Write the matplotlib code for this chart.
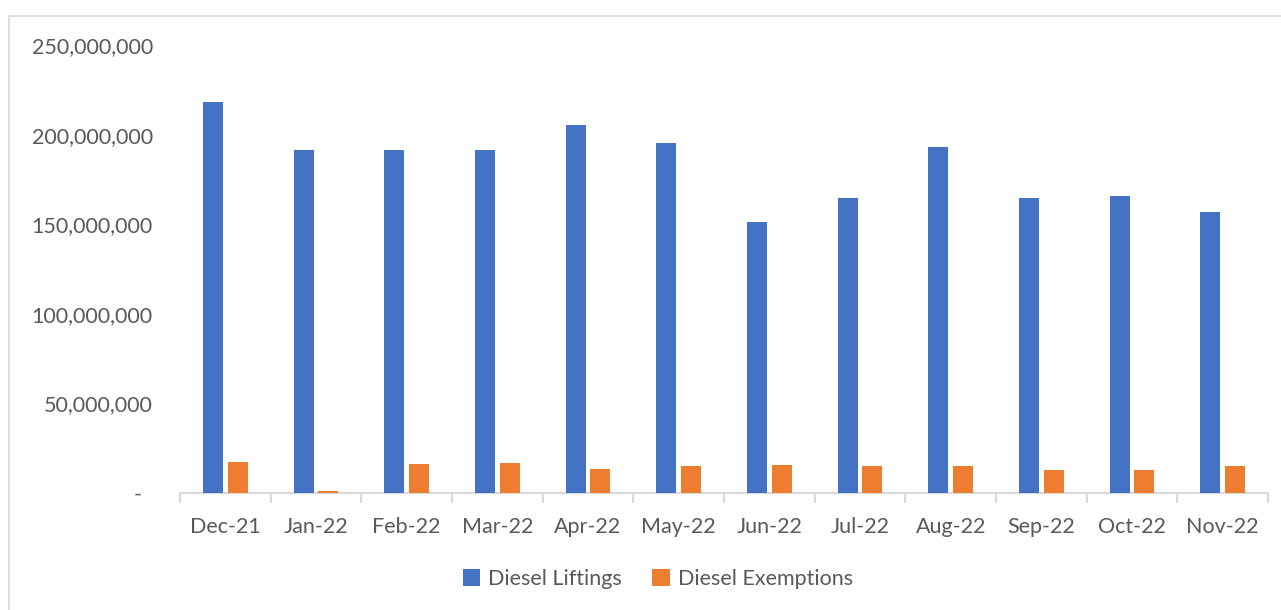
import matplotlib.pyplot as plt
import numpy as np
from matplotlib.patches import Rectangle
from matplotlib.ticker import FuncFormatter, FixedLocator

months = ['Dec-21', 'Jan-22', 'Feb-22', 'Mar-22', 'Apr-22', 'May-22',
          'Jun-22', 'Jul-22', 'Aug-22', 'Sep-22', 'Oct-22', 'Nov-22']
liftings = [218.3e6, 191.6e6, 191.4e6, 191.6e6, 205.6e6, 195.1e6,
            151.0e6, 164.8e6, 193.0e6, 164.6e6, 165.5e6, 156.6e6]
exemptions = [17.3e6, 1.3e6, 16.3e6, 16.5e6, 13.4e6, 15.2e6,
              15.8e6, 14.9e6, 15.1e6, 12.8e6, 12.8e6, 15.1e6]

blue = '#4472c4'
orange = '#ed7d31'
grey_txt = '#595959'
grey_line = '#d9d9d9'

plt.rcParams['font.family'] = ['Lato', 'DejaVu Sans']

fig = plt.figure(figsize=(12.81, 6.10), dpi=100)
ax = fig.add_axes([180 / 1281, 1 - 493 / 610, 1088 / 1281, 448 / 610])

# outer chart border (top and left visible)
fig.patches.append(Rectangle((8.5 / 1281, -0.05), 1.2, 1 - 15.5 / 610 + 0.05,
                             transform=fig.transFigure, fill=False,
                             edgecolor=grey_line, linewidth=1.2))

x = np.arange(len(months))
w = 0.22
gap = 0.055
ax.bar(x - (w + gap) / 2, liftings, w, color=blue, label='Diesel Liftings', zorder=3)
ax.bar(x + (w + gap) / 2, exemptions, w, color=orange, label='Diesel Exemptions', zorder=3)

ax.set_xlim(-0.5, len(months) - 0.5)
ax.set_ylim(0, 250e6)
ax.set_yticks(np.arange(0, 250e6 + 1, 50e6))


def fmt(v, pos):
    if v == 0:
        return '-  '
    return f'{v:,.0f}'


ax.yaxis.set_major_formatter(FuncFormatter(fmt))
ax.set_xticks(x)
ax.set_xticklabels(months)
ax.xaxis.set_minor_locator(FixedLocator(np.arange(-0.5, len(months), 1.0)))

for s in ['top', 'right', 'left']:
    ax.spines[s].set_visible(False)
ax.spines['bottom'].set_color(grey_line)
ax.spines['bottom'].set_linewidth(1.5)
ax.spines['bottom'].set_zorder(1)

ax.tick_params(axis='x', which='major', length=0, pad=17, labelsize=15.5, labelcolor=grey_txt)
ax.tick_params(axis='x', which='minor', length=7, width=1.5, color=grey_line)
ax.tick_params(axis='y', length=0, pad=19.5, labelsize=15.5, labelcolor=grey_txt)

leg = fig.legend(loc='center', bbox_to_anchor=(658 / 1281, 1 - 579 / 610), ncol=2,
                 frameon=False, fontsize=15.5, labelcolor=grey_txt,
                 handlelength=0.8, handleheight=0.8, handletextpad=0.4,
                 columnspacing=1.4)

fig.savefig('out.png', dpi=100)
